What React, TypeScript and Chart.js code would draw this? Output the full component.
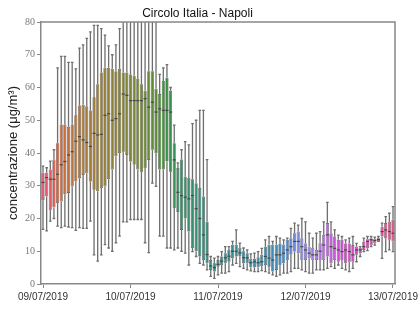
import React, { useEffect, useRef } from 'react';
import { Chart, registerables } from 'chart.js';
Chart.register(...registerables);

const chartTitle = 'Circolo Italia - Napoli';
const yLabel = 'concentrazione (μg/m³)';
const xTickLabels = ['09/07/2019', '10/07/2019', '11/07/2019', '12/07/2019', '13/07/2019'];
const xTickHours = [0, 24, 48, 72, 96];
// hour offsets since 09/07/2019 00:00 (one box per hour)
const hours = Array.from({ length: 97 }, (_, i) => i);

const mins = [16.7, 16.2, 19.2, 20.0, 17.7, 17.2, 17.7, 17.4, 17.2, 16.4, 17.2, 17.0, 17.0, 19.2, 8.9, 7.0, 8.9, 12.0, 11.0, 10.0, 12.6, 14.6, 19.0, 19.0, 19.7, 19.7, 19.7, 19.7, 12.6, 9.6, 30.8, 29.8, 14.6, 14.6, 11.0, 11.0, 10.4, 11.0, 10.0, 9.4, 5.8, 9.9, 8.4, 6.3, 5.8, 4.3, 2.3, 1.7, 2.8, 3.3, 3.3, 3.8, 5.8, 6.3, 5.3, 4.8, 4.3, 4.0, 3.8, 3.8, 4.1, 3.8, 3.3, 2.8, 2.3, 2.8, 3.3, 3.3, 3.8, 4.8, 4.8, 4.3, 3.8, 3.3, 3.3, 4.3, 4.3, 4.3, 4.8, 5.3, 4.8, 5.8, 4.8, 4.3, 3.8, 4.8, 6.8, 8.4, 9.9, 10.2, 11.4, 11.9, 13.0, 7.8, 9.9, 10.4, 9.9];
const q1s = [25.5, 26.8, 22.7, 23.4, 24.7, 25.2, 27.3, 27.8, 29.8, 31.3, 32.3, 33.3, 33.8, 31.3, 28.8, 28.3, 29.3, 29.8, 32.0, 35.0, 39.0, 40.0, 40.4, 39.4, 37.4, 36.4, 35.0, 34.3, 35.4, 37.9, 41.0, 40.0, 35.0, 35.0, 37.4, 34.3, 23.2, 22.0, 16.5, 20.0, 16.0, 11.0, 10.0, 8.4, 7.3, 6.3, 4.3, 3.8, 5.3, 5.8, 6.3, 6.8, 7.9, 8.4, 8.4, 6.3, 6.3, 5.1, 5.1, 5.1, 5.5, 5.8, 5.3, 3.8, 4.3, 5.8, 6.3, 7.3, 8.9, 9.9, 9.4, 7.3, 7.3, 7.9, 7.3, 7.3, 7.3, 7.3, 8.4, 6.3, 7.3, 6.8, 7.3, 6.3, 6.8, 6.8, 8.9, 9.4, 10.4, 10.9, 11.9, 12.4, 13.1, 14.5, 13.9, 13.5, 13.0];
const medians = [31.0, 32.5, 32.0, 32.0, 33.5, 36.4, 37.4, 39.4, 40.4, 43.6, 45.0, 44.0, 43.2, 42.0, 46.0, 45.5, 45.7, 51.5, 52.0, 50.0, 50.5, 52.0, 58.0, 57.6, 56.0, 56.0, 56.0, 56.0, 56.6, 54.0, 55.5, 52.5, 53.5, 53.0, 53.0, 52.5, 37.9, 28.0, 27.0, 26.5, 26.0, 27.0, 23.0, 20.0, 15.0, 9.0, 5.5, 5.0, 6.0, 7.0, 8.0, 8.5, 10.0, 10.0, 9.5, 8.0, 8.0, 6.5, 6.8, 6.5, 6.8, 8.4, 7.9, 7.3, 8.9, 8.9, 9.4, 10.4, 11.4, 13.0, 13.0, 11.4, 10.4, 9.4, 8.9, 8.9, 10.0, 11.9, 15.0, 11.4, 10.9, 10.4, 9.9, 10.4, 9.9, 8.9, 10.4, 10.4, 11.4, 13.0, 13.5, 13.3, 13.6, 16.0, 16.5, 16.0, 15.5];
const q3s = [34.0, 34.0, 35.0, 38.0, 43.0, 48.7, 48.7, 48.0, 48.7, 51.5, 54.5, 54.7, 54.3, 53.0, 57.0, 61.0, 64.6, 66.0, 66.0, 65.7, 65.0, 65.7, 64.6, 64.6, 64.0, 63.6, 62.6, 61.0, 59.0, 65.0, 65.0, 59.6, 58.0, 62.0, 63.0, 59.0, 43.0, 35.4, 38.0, 32.8, 32.4, 32.0, 30.8, 29.3, 26.7, 19.0, 7.3, 6.3, 7.3, 8.4, 9.4, 10.4, 12.0, 12.0, 11.0, 10.0, 9.4, 7.7, 7.7, 8.2, 8.9, 11.4, 12.0, 12.0, 12.0, 12.4, 12.0, 13.5, 14.0, 15.5, 16.0, 14.0, 12.4, 11.4, 11.0, 10.4, 12.6, 15.0, 18.6, 15.5, 14.5, 13.5, 13.5, 12.4, 12.4, 11.9, 11.4, 11.0, 13.0, 13.7, 14.0, 13.7, 14.0, 17.5, 18.6, 19.0, 19.6];
const maxs = [36.0, 35.5, 37.5, 41.0, 66.0, 69.5, 69.5, 67.7, 67.7, 65.7, 72.0, 73.0, 75.0, 77.0, 79.0, 79.0, 78.0, 76.0, 72.7, 70.0, 73.0, 78.0, 85, 85, 85, 85, 85, 85, 85, 85, 85, 85, 64.0, 66.0, 67.0, 60.0, 48.5, 37.0, 41.0, 43.5, 42.5, 49.0, 50.0, 53.0, 53.0, 38.0, 8.4, 7.9, 8.4, 9.9, 11.4, 11.4, 13.0, 16.5, 12.5, 11.0, 10.4, 9.2, 9.4, 9.9, 10.9, 13.5, 14.5, 13.0, 14.5, 14.0, 13.5, 14.0, 17.0, 18.6, 18.0, 20.0, 19.0, 15.5, 14.0, 15.5, 16.0, 19.0, 24.9, 19.0, 16.5, 14.9, 14.5, 13.5, 14.0, 14.5, 12.4, 11.4, 14.0, 14.5, 14.5, 14.3, 14.5, 18.6, 20.6, 21.6, 23.6];

// ---- colour palette (husl hue wheel, darkened and desaturated) ----
const HM = [[3.2406, -1.5372, -0.4986], [-0.9689, 1.8758, 0.0415], [0.0557, -0.204, 1.057]];
const refU = 0.19784, refV = 0.46834, kappa = 903.2963, epsilon = 0.0088565;
function maxChroma(L: number, H: number) {
  const hrad = (H / 360) * 2 * Math.PI;
  const sinH = Math.sin(hrad), cosH = Math.cos(hrad);
  const sub1 = Math.pow(L + 16, 3) / 1560896;
  const sub2 = sub1 > epsilon ? sub1 : L / kappa;
  let result = Infinity;
  for (const [m1, m2, m3] of HM) {
    const top = (0.99915 * m1 + 1.05122 * m2 + 1.1446 * m3) * sub2;
    const rb = 0.8633 * m3 - 0.17266 * m2;
    const lb = 0.12949 * m3 - 0.38848 * m1;
    const bottom = (rb * sinH + lb * cosH) * sub2;
    for (const t of [0, 1]) {
      const C = (L * (top - 1.05122 * t)) / (bottom + 0.17266 * sinH * t);
      if (C > 0 && C < result) result = C;
    }
  }
  return result;
}
function huslToRgb(H: number, S: number, L: number): number[] {
  const C = (maxChroma(L, H) / 100) * S;
  const hr = (H / 360) * 2 * Math.PI;
  const U = C * Math.cos(hr), V = C * Math.sin(hr);
  const t = (L + 16) / 116;
  const Y = Math.pow(t, 3) > epsilon ? Math.pow(t, 3) : (116 * t - 16) / kappa;
  const vu = U / (13 * L) + refU, vv = V / (13 * L) + refV;
  const X = 0 - (9 * Y * vu) / ((vu - 4) * vv - vu * vv);
  const Z = (9 * Y - 15 * vv * Y - vv * X) / (3 * vv);
  return HM.map(([a, b, c]) => {
    const lin = a * X + b * Y + c * Z;
    const v = lin <= 0.0031308 ? 12.92 * lin : 1.055 * Math.pow(lin, 1 / 2.4) - 0.055;
    return Math.min(1, Math.max(0, v));
  });
}
function desaturate([r, g, b]: number[], prop: number) {
  const mx = Math.max(r, g, b), mn = Math.min(r, g, b);
  const l = (mx + mn) / 2;
  if (mx === mn) return [r, g, b];
  let s = l <= 0.5 ? (mx - mn) / (mx + mn) : (mx - mn) / (2 - mx - mn);
  const rc = (mx - r) / (mx - mn), gc = (mx - g) / (mx - mn), bc = (mx - b) / (mx - mn);
  let h = r === mx ? bc - gc : g === mx ? 2 + rc - bc : 4 + gc - rc;
  h = ((h / 6) % 1 + 1) % 1;
  s *= prop;
  const m2 = l <= 0.5 ? l * (1 + s) : l + s - l * s;
  const m1 = 2 * l - m2;
  const v = (hh: number) => {
    hh = ((hh % 1) + 1) % 1;
    if (hh < 1 / 6) return m1 + (m2 - m1) * hh * 6;
    if (hh < 0.5) return m2;
    if (hh < 2 / 3) return m1 + (m2 - m1) * (2 / 3 - hh) * 6;
    return m1;
  };
  return [v(h + 1 / 3), v(h), v(h - 1 / 3)];
}
const boxColors = hours.map((_, i) => {
  const hue = (((i / hours.length) + 0.01) % 1) * 359;
  const rgb = desaturate(huslToRgb(hue, 89.1, 57), 0.8);
  return `rgb(${rgb.map((c) => Math.round(c * 255)).join(',')})`;
});

const WHISKER = 'rgb(110,110,110)';
const EDGE = 'rgb(70,70,70)';
const FONT = "'Liberation Sans', Arial, sans-serif";

const boxPlugin = {
  id: 'boxExtras',
  beforeDatasetsDraw(chart: any) {
    const { ctx, chartArea: a, scales } = chart;
    const { x, y } = scales;
    ctx.save();
    ctx.beginPath();
    ctx.rect(a.left, a.top, a.right - a.left, a.bottom - a.top);
    ctx.clip();
    ctx.strokeStyle = WHISKER;
    ctx.lineWidth = 1.3;
    const cap = 1.3;
    hours.forEach((h, i) => {
      const px = x.getPixelForValue(h);
      const yMax = y.getPixelForValue(maxs[i]);
      const yMin = y.getPixelForValue(mins[i]);
      ctx.beginPath();
      ctx.moveTo(px, y.getPixelForValue(q3s[i]));
      ctx.lineTo(px, yMax);
      ctx.moveTo(px, y.getPixelForValue(q1s[i]));
      ctx.lineTo(px, yMin);
      ctx.moveTo(px - cap, yMax);
      ctx.lineTo(px + cap, yMax);
      ctx.moveTo(px - cap, yMin);
      ctx.lineTo(px + cap, yMin);
      ctx.stroke();
    });
    ctx.restore();
  },
  afterDatasetsDraw(chart: any) {
    const { ctx, chartArea: a, scales } = chart;
    const { y } = scales;
    const meta = chart.getDatasetMeta(0);
    ctx.save();
    ctx.strokeStyle = EDGE;
    ctx.lineWidth = 1.2;
    hours.forEach((_, i) => {
      const el = meta.data[i];
      const py = y.getPixelForValue(medians[i]);
      ctx.beginPath();
      ctx.moveTo(el.x - el.width / 2, py);
      ctx.lineTo(el.x + el.width / 2, py);
      ctx.stroke();
    });
    ctx.strokeStyle = '#888';
    ctx.lineWidth = 1.5;
    ctx.beginPath();
    ctx.moveTo(a.left, a.top);
    ctx.lineTo(a.right, a.top);
    ctx.lineTo(a.right, a.bottom);
    ctx.stroke();
    ctx.restore();
  },
};

export default function App() {
  const ref = useRef<HTMLCanvasElement>(null);
  useEffect(() => {
    const chart = new Chart(ref.current as HTMLCanvasElement, {
      type: 'bar',
      data: {
        datasets: [
          {
            data: hours.map((h, i) => ({ x: h, y: [q1s[i], q3s[i]] })) as any,
            backgroundColor: boxColors,
            borderColor: EDGE,
            borderWidth: 0.6,
            borderSkipped: false,
            barPercentage: 1,
            categoryPercentage: 0.86,
          },
        ],
      },
      options: {
        animation: false,
        responsive: false,
        maintainAspectRatio: false,
        layout: { padding: { left: 0, right: 23, top: 0, bottom: 0 } },
        plugins: {
          legend: { display: false },
          tooltip: { enabled: false },
          title: {
            display: true,
            text: chartTitle,
            font: { family: FONT, size: 12, weight: 'normal' },
            color: '#111',
            padding: { top: 6, bottom: 1.6 },
          },
        },
        scales: {
          x: {
            type: 'linear',
            offset: false,
            min: -0.55,
            max: 96.55,
            grid: { offset: false, drawOnChartArea: false, tickLength: 4, tickColor: '#888' },
            border: { color: '#888', width: 1.5 },
            afterBuildTicks: (s: any) => {
              s.ticks = xTickHours.map((v) => ({ value: v }));
            },
            ticks: {
              callback: (v: any) => {
                const k = xTickHours.indexOf(Number(v));
                return k >= 0 ? xTickLabels[k] : '';
              },
              autoSkip: false,
              maxRotation: 0,
              font: { family: FONT, size: 10 },
              color: '#333',
              padding: 3,
            },
            afterFit: (s: any) => {
              s.height = 28;
              s.paddingLeft = 0;
              s.paddingRight = 0;
            },
          },
          y: {
            min: 0,
            max: 80,
            ticks: {
              stepSize: 10,
              font: { family: "'Liberation Serif', serif", size: 10 },
              color: '#777',
              padding: 2,
            },
            grid: { drawOnChartArea: false, tickLength: 4, tickColor: '#888' },
            border: { color: '#888', width: 1.5 },
            title: {
              display: true,
              text: yLabel,
              font: { family: FONT, size: 13 },
              color: '#222',
              padding: { top: 6, bottom: 0 },
            },
            afterFit: (s: any) => {
              s.width = 41;
              s.paddingTop = 0;
              s.paddingBottom = 0;
            },
          },
        },
      } as any,
      plugins: [boxPlugin],
    });
    return () => chart.destroy();
  }, []);
  return (
    <div style={{ position: 'fixed', left: 0, top: 0, width: 418, height: 312, background: '#fff' }}>
      <canvas ref={ref} width={418} height={312} style={{ width: 418, height: 312, display: 'block' }} />
    </div>
  );
}
